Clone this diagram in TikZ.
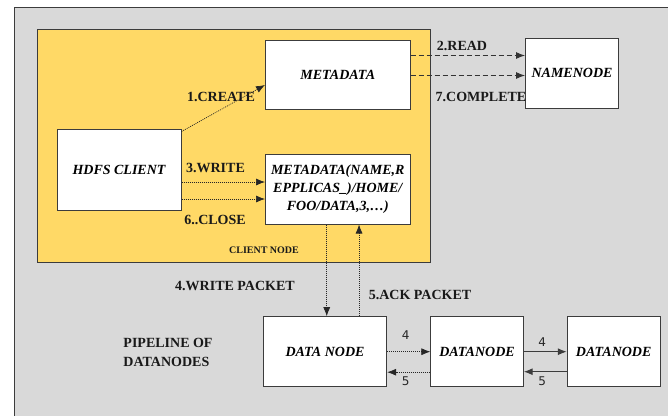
\documentclass[tikz,border=0pt]{standalone}
\usepackage{fontspec}
\setmainfont{Liberation Serif}
\newfontfamily\numfont{DejaVu Sans}
\usetikzlibrary{arrows.meta}
\definecolor{panelgray}{HTML}{D9D9D9}
\definecolor{clientyellow}{HTML}{FFD966}
\definecolor{edgegray}{HTML}{3C3C3C}

\begin{document}
\begin{tikzpicture}[x=1pt,y=-1pt,
  box/.style={draw=edgegray, line width=1pt, fill=white, inner sep=2pt, align=center,
    font=\fontsize{14}{18}\selectfont\bfseries\itshape},
  lbl/.style={font=\fontsize{14}{17}\selectfont\bfseries, text=black!90, inner sep=0pt},
  num/.style={font=\numfont\fontsize{12}{14}\selectfont, text=black!85, inner sep=0pt},
  tip/.style={-{Latex[length=9pt,width=7pt]}},
  dotline/.style={tip, line width=0.7pt, dash pattern=on 1pt off 1pt, draw=black!85},
  dashline/.style={tip, line width=0.9pt, dash pattern=on 5pt off 3pt, draw=black!80},
  solidline/.style={tip, line width=1.2pt, draw=edgegray}]
\useasboundingbox (0,0) rectangle (668,415);

% grey panel, cut off at the right and bottom
\begin{scope}
  \clip (0,0) rectangle (668,415);
  \fill[panelgray] (14,7) rectangle (680,430);
  \draw[edgegray, line width=1pt] (14,430) -- (14,7) -- (680,7);
\end{scope}

% client node area
\node[draw=edgegray, line width=1pt, fill=clientyellow, minimum width=393.7pt,
  minimum height=233.7pt, inner sep=0pt] (client) at (233.85,145.85) {};

% boxes
\node[box, minimum width=144.5pt, minimum height=69pt] (meta) at (337.75,74.5) {METADATA};
\node[box, minimum width=144.5pt, minimum height=70pt] (meta2) at (337.75,189)
  {METADATA(NAME,R\\EPPLICAS\_)/HOME/\\FOO/DATA,3,…)};
\node[box, minimum width=124pt, minimum height=81pt] (hdfs) at (119,169.5) {HDFS CLIENT};
\node[box, minimum width=93pt, minimum height=70pt] (nn) at (572,73.3) {NAMENODE};
\node[box, minimum width=123.4pt, minimum height=70pt] (dn1) at (325,351.7) {DATA NODE};
\node[box, minimum width=92.3pt, minimum height=70pt] (dn2) at (477,351.7) {DATANODE};
\node[box, minimum width=92.7pt, minimum height=70pt] (dn3) at (613.7,351.7) {DATANODE};

% client to metadata
\draw[dotline] ([yshift=-3pt]hdfs.north east) -- ([yshift=-10.5pt]meta.west);
\draw[dotline] ([yshift=-12.5pt]hdfs.east) -- ([yshift=-12.5pt]hdfs.east -| meta2.west);
\draw[dotline] ([yshift=-29.5pt]hdfs.east) -- ([yshift=-29.5pt]hdfs.east -| meta2.west);

% metadata to namenode
\draw[dashline] ([yshift=-16pt]meta.north east) -- ([yshift=-16pt]meta.north east -| nn.west);
\draw[dashline] ([yshift=-36pt]meta.north east) -- ([yshift=-36pt]meta.north east -| nn.west);

% packets between client and first datanode
\draw[dotline] ([xshift=-11pt]meta2.south) -- ([xshift=-11pt]meta2.south |- dn1.north);
\draw[dotline] ([xshift=21.3pt]meta2.south |- dn1.north) -- ([xshift=21.3pt]meta2.south);

% pipeline
\draw[dotline] (dn1.east) -- (dn2.west);
\draw[dotline] ([yshift=-20.5pt]dn2.west) -- ([yshift=-20.5pt]dn1.east);
\draw[solidline] (dn2.east) -- (dn3.west);
\draw[solidline] ([yshift=-20pt]dn3.west) -- ([yshift=-20pt]dn2.east);

% labels
\node[lbl] (lcreate) at (221,97) {1.CREATE};
\node[lbl] (lread) at (462,46) {2.READ};
\node[lbl] (lcomplete) at (481,97) {7.COMPLETE};
\node[lbl] (lwrite) at (215.5,167.5) {3.WRITE};
\node[lbl] (lclose) at (215,220) {6..CLOSE};
\node[lbl, font=\fontsize{10}{12}\selectfont\bfseries] (lclient) at (264,250) {CLIENT NODE};
\node[lbl] (lwpacket) at (235,286) {4.WRITE PACKET};
\node[lbl] (lack) at (420,295) {5.ACK PACKET};
\node[lbl, align=left, font=\fontsize{14}{19}\selectfont\bfseries] (lpipe) at (168,352.5)
  {PIPELINE OF\\DATANODES};
\node[num] (n4a) at (405.7,335.5) {4};
\node[num] (n5a) at (405.7,381) {5};
\node[num] (n4b) at (542.3,342) {4};
\node[num] (n5b) at (542.3,381.7) {5};
\end{tikzpicture}
\end{document}
